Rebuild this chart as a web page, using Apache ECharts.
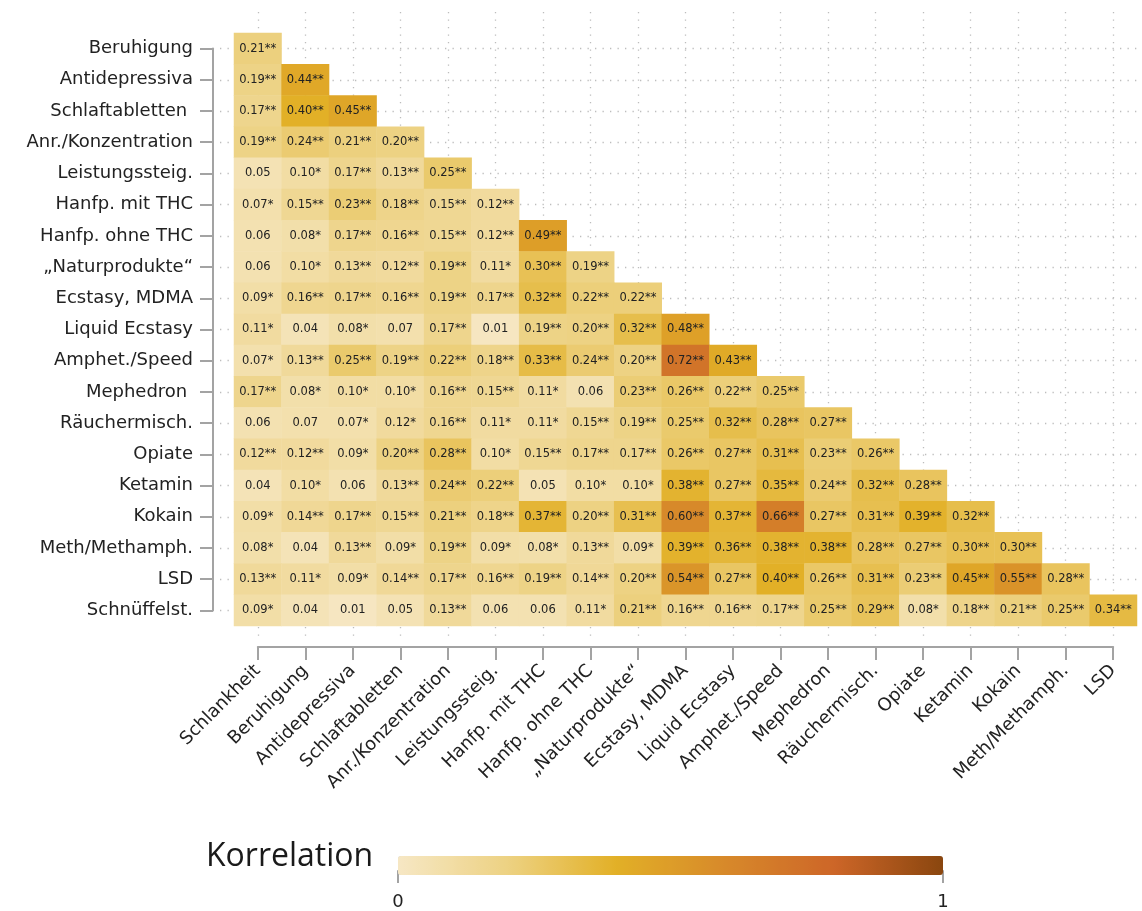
<!DOCTYPE html>
<html>
<head>
<meta charset="utf-8">
<script src="https://cdn.jsdelivr.net/npm/echarts@6/dist/echarts.min.js"></script>
<style>
  html, body { margin: 0; padding: 0; background: #fff; }
  #chart { width: 1142px; height: 911px; }
</style>
</head>
<body>
<div id="chart"></div>
<script>
// columns and rows of the lower triangle
const xCats = ['Schlankheit', 'Beruhigung', 'Antidepressiva', 'Schlaftabletten', 'Anr./Konzentration',
  'Leistungssteig.', 'Hanfp. mit THC', 'Hanfp. ohne THC', '„Naturprodukte“', 'Ecstasy, MDMA',
  'Liquid Ecstasy', 'Amphet./Speed', 'Mephedron', 'Räuchermisch.', 'Opiate', 'Ketamin', 'Kokain',
  'Meth/Methamph.', 'LSD'];
const yCats = ['Beruhigung', 'Antidepressiva', 'Schlaftabletten ', 'Anr./Konzentration', 'Leistungssteig.',
  'Hanfp. mit THC', 'Hanfp. ohne THC', '„Naturprodukte“', 'Ecstasy, MDMA', 'Liquid Ecstasy',
  'Amphet./Speed', 'Mephedron ', 'Räuchermisch.', 'Opiate', 'Ketamin', 'Kokain', 'Meth/Methamph.',
  'LSD', 'Schnüffelst.'];

// correlation with significance stars, one array per row
const beruhigung = ['0.21**'];
const antidepressiva = ['0.19**', '0.44**'];
const schlaftabletten = ['0.17**', '0.40**', '0.45**'];
const anrKonz = ['0.19**', '0.24**', '0.21**', '0.20**'];
const leistung = ['0.05', '0.10*', '0.17**', '0.13**', '0.25**'];
const hanfMit = ['0.07*', '0.15**', '0.23**', '0.18**', '0.15**', '0.12**'];
const hanfOhne = ['0.06', '0.08*', '0.17**', '0.16**', '0.15**', '0.12**', '0.49**'];
const natur = ['0.06', '0.10*', '0.13**', '0.12**', '0.19**', '0.11*', '0.30**', '0.19**'];
const ecstasy = ['0.09*', '0.16**', '0.17**', '0.16**', '0.19**', '0.17**', '0.32**', '0.22**', '0.22**'];
const liquid = ['0.11*', '0.04', '0.08*', '0.07', '0.17**', '0.01', '0.19**', '0.20**', '0.32**', '0.48**'];
const amphet = ['0.07*', '0.13**', '0.25**', '0.19**', '0.22**', '0.18**', '0.33**', '0.24**', '0.20**', '0.72**', '0.43**'];
const mephedron = ['0.17**', '0.08*', '0.10*', '0.10*', '0.16**', '0.15**', '0.11*', '0.06', '0.23**', '0.26**', '0.22**', '0.25**'];
const raeucher = ['0.06', '0.07', '0.07*', '0.12*', '0.16**', '0.11*', '0.11*', '0.15**', '0.19**', '0.25**', '0.32**', '0.28**', '0.27**'];
const opiate = ['0.12**', '0.12**', '0.09*', '0.20**', '0.28**', '0.10*', '0.15**', '0.17**', '0.17**', '0.26**', '0.27**', '0.31**', '0.23**', '0.26**'];
const ketamin = ['0.04', '0.10*', '0.06', '0.13**', '0.24**', '0.22**', '0.05', '0.10*', '0.10*', '0.38**', '0.27**', '0.35**', '0.24**', '0.32**', '0.28**'];
const kokain = ['0.09*', '0.14**', '0.17**', '0.15**', '0.21**', '0.18**', '0.37**', '0.20**', '0.31**', '0.60**', '0.37**', '0.66**', '0.27**', '0.31**', '0.39**', '0.32**'];
const meth = ['0.08*', '0.04', '0.13**', '0.09*', '0.19**', '0.09*', '0.08*', '0.13**', '0.09*', '0.39**', '0.36**', '0.38**', '0.38**', '0.28**', '0.27**', '0.30**', '0.30**'];
const lsd = ['0.13**', '0.11*', '0.09*', '0.14**', '0.17**', '0.16**', '0.19**', '0.14**', '0.20**', '0.54**', '0.27**', '0.40**', '0.26**', '0.31**', '0.23**', '0.45**', '0.55**', '0.28**'];
const schnueffel = ['0.09*', '0.04', '0.01', '0.05', '0.13**', '0.06', '0.06', '0.11*', '0.21**', '0.16**', '0.16**', '0.17**', '0.25**', '0.29**', '0.08*', '0.18**', '0.21**', '0.25**', '0.34**'];

const rows = [beruhigung, antidepressiva, schlaftabletten, anrKonz, leistung, hanfMit, hanfOhne, natur,
  ecstasy, liquid, amphet, mephedron, raeucher, opiate, ketamin, kokain, meth, lsd, schnueffel];

const legendTicks = [0, 1];

const cells = [];
rows.forEach((row, i) => {
  row.forEach((txt, j) => {
    cells.push({ value: [j, i, parseFloat(txt)], txt: txt });
  });
});

const axisGray = '#a3a3a3';
const font = 'DejaVu Sans';
const dotted = { color: '#bdbdbd', width: 1.3, type: [1.3, 6.2] };
const tick = { show: true, interval: 0, length: 13, inside: false, lineStyle: { color: axisGray, width: 2 } };

const chart = echarts.init(document.getElementById('chart'));

chart.setOption({
  animation: false,
  title: {
    text: 'Korrelation',
    left: 201,
    top: 836,
    textStyle: { fontFamily: 'Open Sans', fontSize: 32, fontWeight: 'normal', color: '#1a1a1a' }
  },
  grid: [
    { left: 234, right: 5, top: 33, bottom: 285 },          // heatmap
    { left: 257.8, right: 28.8, top: 48.6, bottom: 300.6 }, // visible axes
    { left: 257.8, right: 28.8, top: 12, bottom: 271 },     // vertical dotted lines
    { left: 220, right: 2, top: 48.6, bottom: 300.6 },      // horizontal dotted lines
    { left: 398, width: 545, top: 856, height: 19 }         // colour bar axis
  ],
  xAxis: [
    { gridIndex: 0, type: 'category', data: xCats, show: false },
    {
      gridIndex: 1, type: 'category', data: xCats, boundaryGap: false, offset: 36.6,
      axisLine: { show: true, lineStyle: { color: axisGray, width: 2 } },
      axisTick: tick,
      axisLabel: { interval: 0, rotate: 45, margin: 21, fontSize: 18, color: '#222', fontFamily: font },
      splitLine: { show: false }
    },
    {
      gridIndex: 2, type: 'category', data: xCats, boundaryGap: false,
      axisLine: { show: false }, axisTick: { show: false }, axisLabel: { show: false },
      splitLine: { show: true, interval: 0, lineStyle: dotted }
    },
    { gridIndex: 3, type: 'value', show: false },
    {
      gridIndex: 4, type: 'value', min: 0, max: 1, interval: 1,
      axisLine: { lineStyle: { color: axisGray, width: 2 } },
      axisTick: { length: 12, lineStyle: { color: axisGray, width: 2 } },
      axisLabel: { fontSize: 18, color: '#222', fontFamily: font, margin: 22,
        formatter: v => legendTicks.includes(v) ? String(v) : '' },
      splitLine: { show: false }
    }
  ],
  yAxis: [
    { gridIndex: 0, type: 'category', data: yCats, inverse: true, show: false },
    {
      gridIndex: 1, type: 'category', data: yCats, inverse: true, boundaryGap: false, offset: 44.8,
      axisLine: { show: true, lineStyle: { color: axisGray, width: 2 } },
      axisTick: tick,
      axisLabel: { interval: 0, margin: 20, fontSize: 18, color: '#222', fontFamily: font },
      splitLine: { show: false }
    },
    { gridIndex: 2, type: 'value', show: false },
    {
      gridIndex: 3, type: 'category', data: yCats, inverse: true, boundaryGap: false,
      axisLine: { show: false }, axisTick: { show: false }, axisLabel: { show: false },
      splitLine: { show: true, interval: 0, lineStyle: dotted }
    },
    { gridIndex: 4, type: 'value', show: false }
  ],
  visualMap: {
    type: 'continuous',
    seriesIndex: 0,
    dimension: 2,
    min: 0,
    max: 1,
    orient: 'horizontal',
    left: 383,
    top: 841,
    itemWidth: 19,
    itemHeight: 545,
    calculable: false,
    hoverLink: false,
    text: null,
    inRange: {
      color: ['#f6e7c4', '#edd283', '#e2b027', '#d7892a', '#cd6628', '#8a460f']
    }
  },
  series: [
    {
      type: 'heatmap',
      xAxisIndex: 0,
      yAxisIndex: 0,
      data: cells,
      label: {
        show: true,
        formatter: p => p.data.txt,
        fontSize: 11.5,
        fontFamily: font,
        color: '#222'
      },
      itemStyle: { borderWidth: 0 },
      emphasis: { disabled: true }
    }
  ]
});
</script>
</body>
</html>
